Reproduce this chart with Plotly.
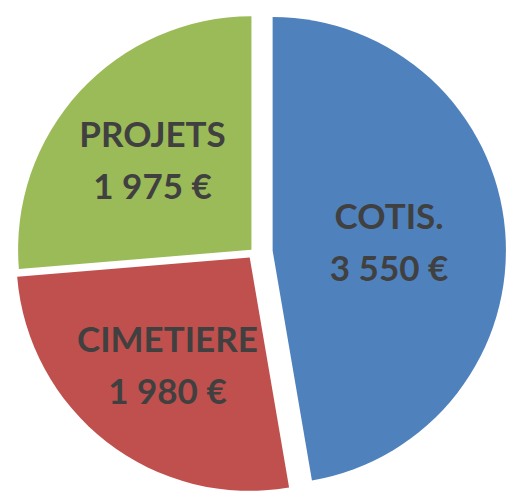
import plotly.graph_objects as go

labels = ["COTIS.", "CIMETIERE", "PROJETS"]
values = [3550, 1980, 1975]
colors = ["#4F81BD", "#C0504D", "#9BBB59"]
pulls = [0.08, 0.03, 0.015]

fig = go.Figure()

fig.add_trace(
    go.Pie(
        labels=labels,
        values=values,
        sort=False,
        direction="clockwise",
        rotation=0,
        pull=pulls,
        marker=dict(colors=colors, line=dict(width=0)),
        textposition="inside",
        insidetextorientation="horizontal",
        # larger base size gives the wide line spacing, spans set the glyph size
        texttemplate='<span style="font-size:35px"><b>%{label}</b></span><br>'
                     '<span style="font-size:35px"><b>%{value:,.0f} €</b></span>',
        textfont=dict(family="Lato", size=40, color="#404040"),
        hoverinfo="label+value",
        showlegend=False,
    )
)

fig.update_layout(
    width=508,
    height=504,
    margin=dict(l=0, r=0, t=0, b=0),
    separators=", ",
    paper_bgcolor="white",
    uniformtext=dict(minsize=40, mode="show"),
)

# no default body margin, so the figure starts at the window corner
fig.write_html(
    "out.html",
    config={"displayModeBar": False},
    post_script="document.body.style.margin='0';document.body.style.overflow='hidden';",
)
